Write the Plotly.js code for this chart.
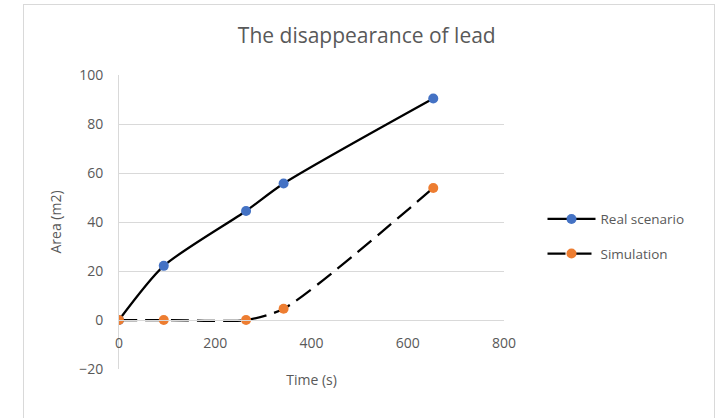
<!DOCTYPE html>
<html>
<head>
<meta charset="utf-8">
<script src="https://cdn.plot.ly/plotly-3.0.1.min.js"></script>
<style>
html,body{margin:0;padding:0;background:#fff;}
#wrap{position:relative;width:715px;height:418px;overflow:hidden;}
#chart{position:absolute;left:0;top:0;width:715px;height:418px;}
#frame{position:absolute;left:23px;top:4px;width:690px;height:430px;border:1px solid #d9d9d9;pointer-events:none;}
</style>
</head>
<body>
<div id="wrap"><div id="chart"></div><div id="frame"></div></div>
<script>
const timeReal = [0, 93, 264, 342, 653];
const areaReal = [0, 22.1, 44.5, 55.7, 90.4];
const timeSim = [0, 93, 264, 342, 653];
const areaSim = [0, 0, 0, 4.6, 53.9];
const seriesNames = ['Real scenario', 'Simulation'];
const titleText = 'The disappearance of lead';
const xTitle = 'Time (s)';
const yTitle = 'Area (m2)';

const gray = '#595959';
const grid = '#d9d9d9';
const font = 'Open Sans, Liberation Sans, sans-serif';

const traces = [
  {x: timeReal, y: areaReal, name: seriesNames[0], mode: 'lines+markers', legendgroup: 'a',
   line: {color: '#000000', width: 2.25, shape: 'spline', smoothing: 0.7},
   marker: {color: '#4472C4', size: 10}},
  {x: timeSim, y: areaSim, name: seriesNames[1], mode: 'lines+markers', legendgroup: 'b',
   line: {color: '#000000', width: 2.25, shape: 'spline', smoothing: 0.7, dash: '18px,8px'},
   marker: {color: '#ED7D31', size: 10}}
];

const layout = {
  width: 715, height: 418,
  margin: {l: 119, r: 211, t: 75, b: 49, pad: 0},
  paper_bgcolor: '#ffffff', plot_bgcolor: '#ffffff',
  font: {family: font, color: gray, size: 13},
  title: {text: titleText, font: {family: font, size: 21, color: gray}, x: 0.513, xanchor: 'center', y: 0.915, yanchor: 'middle'},
  xaxis: {range: [0, 800], dtick: 200, tick0: 0, showgrid: false, zeroline: false,
    showline: true, linecolor: grid, linewidth: 1, anchor: 'free', position: 20/120,
    ticks: '', ticklabelstandoff: 10, tickfont: {size: 14, color: gray},
    title: {text: xTitle, font: {size: 14, color: gray}, standoff: 24}},
  yaxis: {range: [-20, 100], dtick: 20, tick0: 0, showgrid: true, gridcolor: grid, gridwidth: 1,
    zeroline: false, showline: true, linecolor: grid, linewidth: 1, ticks: '',
    ticklabelstandoff: 12, tickfont: {size: 14, color: gray},
    title: {text: yTitle, font: {size: 14, color: gray}, standoff: 14}},
  showlegend: true,
  legend: {x: 1.1, xanchor: 'left', y: 0.45, yanchor: 'middle', traceorder: 'grouped',
    tracegroupgap: 14, itemwidth: 48, font: {size: 13.5, color: gray}, bgcolor: 'rgba(0,0,0,0)'}
};

Plotly.newPlot('chart', traces, layout, {displayModeBar: false, staticPlot: true});
</script>
</body>
</html>
